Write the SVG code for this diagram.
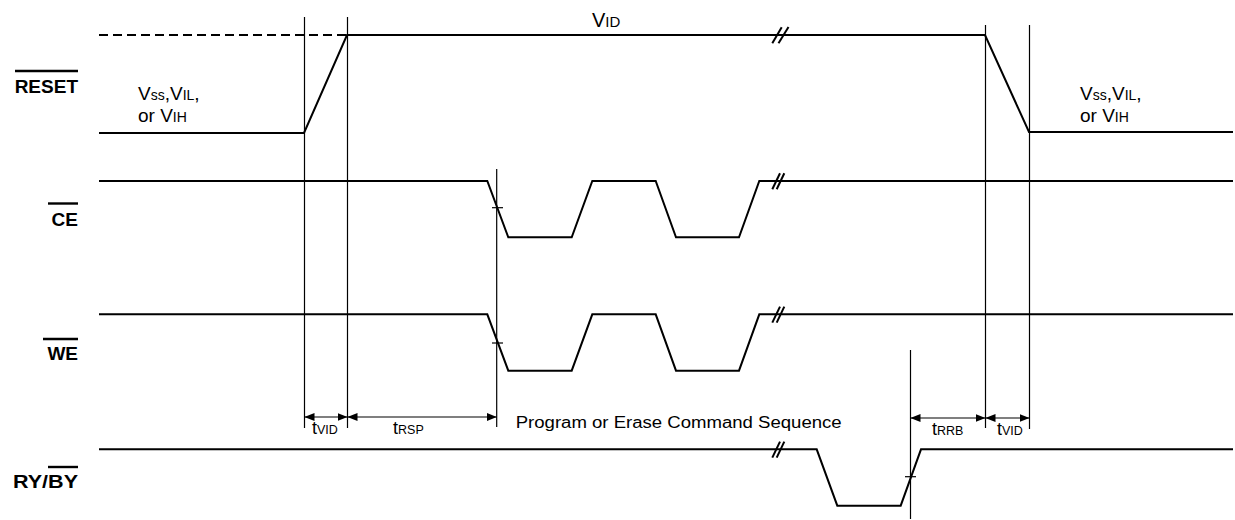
<svg xmlns="http://www.w3.org/2000/svg" width="1235" height="520" viewBox="0 0 1235 520">
<style>
.sig{fill:none;stroke:#000;stroke-width:2;stroke-linejoin:miter}
.vl{stroke:#000;stroke-width:1.2;fill:none}
.brk{stroke:#000;stroke-width:2;fill:none}
.lbl{font-family:"Liberation Sans",Arial,sans-serif;font-weight:bold;font-size:19px;fill:#000}
.txt{font-family:"Liberation Sans",Arial,sans-serif;font-size:16px;fill:#000}
.lv{font-family:"Liberation Sans",Arial,sans-serif;font-size:19px;fill:#000}
.lvs{font-size:14px}
.sub{font-size:12.5px}
.ovl{stroke:#000;stroke-width:2.4}
.dim{stroke:#000;stroke-width:1.2;fill:none;marker-start:url(#ah);marker-end:url(#ah)}
</style>
<defs>
<marker id="ah" viewBox="0 0 10 8" refX="10" refY="4" markerWidth="10" markerHeight="8" markerUnits="userSpaceOnUse" orient="auto-start-reverse">
<path d="M0,0 L10,4 L0,8 Z" fill="#000"/>
</marker>
</defs>
<rect width="1235" height="520" fill="#fff"/>

<g id="labels">
<g id="label-reset">
<text class="lbl" x="78" y="93" text-anchor="end">RESET</text>
<line class="ovl" x1="15" y1="71" x2="78" y2="71"/>
</g>
<g id="label-ce">
<text class="lbl" x="78" y="226" text-anchor="end">CE</text>
<line class="ovl" x1="48" y1="203.5" x2="78" y2="203.5"/>
</g>
<g id="label-we">
<text class="lbl" x="78" y="360" text-anchor="end">WE</text>
<line class="ovl" x1="43" y1="339" x2="78" y2="339"/>
</g>
<g id="label-ryby">
<text class="lbl" x="13" y="488" textLength="65" lengthAdjust="spacingAndGlyphs">RY/BY</text>
<line class="ovl" x1="48" y1="467" x2="78" y2="467"/>
</g>
</g>

<g id="connectors">
<line class="vl" x1="304.5" y1="17" x2="304.5" y2="428"/>
<line class="vl" x1="347.5" y1="17" x2="347.5" y2="428"/>
<line class="vl" x1="985.5" y1="25" x2="985.5" y2="428"/>
<line class="vl" x1="1029.5" y1="25" x2="1029.5" y2="429"/>
<line class="vl" x1="496.7" y1="169" x2="496.7" y2="427"/>
<line class="vl" x1="910.5" y1="350" x2="910.5" y2="519"/>
<line class="vl" x1="492" y1="207.7" x2="503" y2="207.7"/>
<line class="vl" x1="492" y1="343" x2="503" y2="343"/>
<line class="vl" x1="905" y1="476.7" x2="916" y2="476.7"/>
<line class="dim" x1="304.5" y1="417" x2="347.5" y2="417"/>
<line class="dim" x1="347.5" y1="417" x2="496.7" y2="417"/>
<line class="dim" x1="910.5" y1="418" x2="985.5" y2="418"/>
<line class="dim" x1="985.5" y1="418" x2="1029.5" y2="418"/>
</g>

<g id="reset-signal">
<line x1="99" y1="35" x2="347" y2="35" stroke="#000" stroke-width="2" stroke-dasharray="9,5"/>
<polyline class="sig" points="99,133 304,133 347,35 985,35 1029,132 1233,132"/>
<line class="brk" x1="772.3" y1="43.3" x2="781.7" y2="27.3"/>
<line class="brk" x1="778.5" y1="43.3" x2="788.5" y2="27"/>
<text class="lv" x="592" y="26.5"><tspan font-size="20">V</tspan><tspan font-size="15">ID</tspan></text>
<text class="lv" x="138" y="99.5">V<tspan class="lvs">ss</tspan>,V<tspan class="lvs">IL</tspan>,</text>
<text class="lv" x="138" y="121.5">or V<tspan class="lvs">IH</tspan></text>
<text class="lv" x="1080" y="99.5">V<tspan class="lvs">ss</tspan>,V<tspan class="lvs">IL</tspan>,</text>
<text class="lv" x="1080" y="121.5">or V<tspan class="lvs">IH</tspan></text>
</g>

<g id="ce-signal">
<polyline class="sig" points="99,181 487.3,181 508.3,237.3 571.7,237.3 592.3,181 655.7,181 676,237.3 739,237.3 759.3,181 1233,181"/>
<line class="brk" x1="772.3" y1="189.3" x2="780" y2="173.3"/>
<line class="brk" x1="776.7" y1="189.3" x2="784.3" y2="173.3"/>
</g>

<g id="we-signal">
<polyline class="sig" points="99,314.3 487.3,314.3 508.3,370.7 571.7,370.7 592.3,314.3 655.7,314.3 676,370.7 739,370.7 759.3,314.3 1233,314.3"/>
<line class="brk" x1="772.3" y1="322.6" x2="780" y2="306.6"/>
<line class="brk" x1="776.7" y1="322.6" x2="784.3" y2="306.6"/>
</g>

<g id="ryby-signal">
<polyline class="sig" points="99,449.3 816.7,449.3 837.3,505.7 900.7,505.7 921,449.3 1233,449.3"/>
<line class="brk" x1="772.3" y1="457.6" x2="780" y2="441.6"/>
<line class="brk" x1="776.7" y1="457.6" x2="784.3" y2="441.6"/>
</g>

<g id="timing-labels">
<text class="txt" x="312" y="434"><tspan font-size="18">t</tspan><tspan class="sub">VID</tspan></text>
<text class="txt" x="393" y="434"><tspan font-size="18">t</tspan><tspan class="sub">RSP</tspan></text>
<text class="txt" x="932" y="435"><tspan font-size="18">t</tspan><tspan class="sub">RRB</tspan></text>
<text class="txt" x="997" y="435"><tspan font-size="18">t</tspan><tspan class="sub">VID</tspan></text>
<text class="txt" x="515.7" y="427.5" font-size="18" textLength="326" lengthAdjust="spacingAndGlyphs">Program or Erase Command Sequence</text>
</g>
</svg>
